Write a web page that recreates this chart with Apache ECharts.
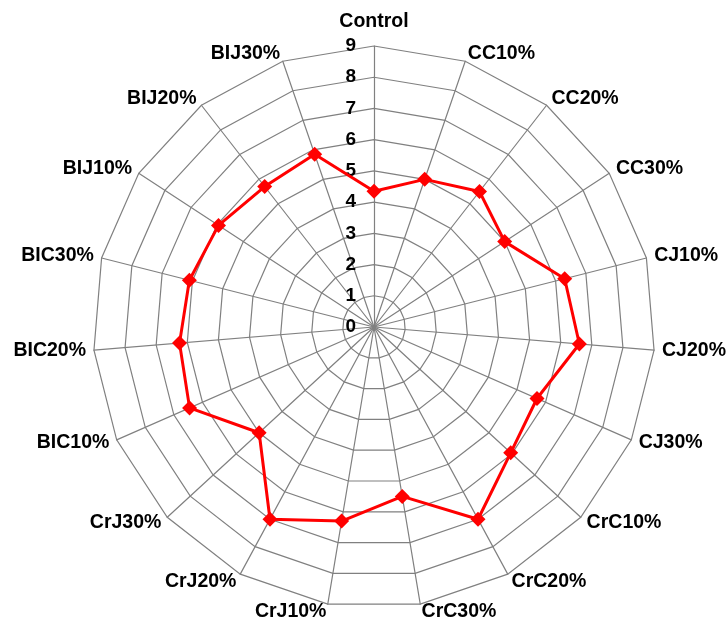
<!DOCTYPE html>
<html>
<head>
<meta charset="utf-8">
<script src="https://cdn.jsdelivr.net/npm/echarts@6/dist/echarts.min.js"></script>
<style>
  html, body { margin: 0; padding: 0; background: #ffffff; }
  #chart { width: 728px; height: 622px; }
</style>
</head>
<body>
<div id="chart"></div>
<script>
// Treatments, listed clockwise starting from the top spoke
const categories = [
  'Control', 'CC10%', 'CC20%', 'CC30%', 'CJ10%', 'CJ20%', 'CJ30%',
  'CrC10%', 'CrC20%', 'CrC30%', 'CrJ10%', 'CrJ20%', 'CrJ30%',
  'BIC10%', 'BIC20%', 'BIC30%', 'BIJ10%', 'BIJ20%', 'BIJ30%'
];
// Measured value for each treatment (same order)
const values = [
  4.35, 5.0, 5.5, 5.0, 6.3, 6.6, 5.7,
  5.95, 7.0, 5.5, 6.3, 7.0, 5.0,
  6.45, 6.25, 6.1, 5.95, 5.7, 5.85
];
const axisMin = 0;
const axisMax = 9;
const tickCount = 9;

// ECharts lays indicators out counter-clockwise, so keep the first one
// at the top and reverse the rest to read clockwise.
const order = [0].concat(categories.slice(1).map((_, i) => categories.length - 1 - i));
const indicator = order.map((idx, k) => {
  const ind = { name: categories[idx], min: axisMin, max: axisMax };
  if (k === 0) {
    // the top spoke carries the value scale and sits a little higher
    ind.axisLabel = { show: true };
    ind.nameGap = 14;
  }
  return ind;
});
const seriesData = order.map(idx => values[idx]);

const chart = echarts.init(document.getElementById('chart'), null, { renderer: 'canvas' });
chart.setOption({
  backgroundColor: '#ffffff',
  animation: false,
  radar: {
    center: [374, 327],
    radius: 281,
    startAngle: 90,
    splitNumber: tickCount,
    shape: 'polygon',
    indicator: indicator,
    nameGap: 8,
    axisName: {
      color: '#000000',
      fontFamily: 'Liberation Sans, Arial, sans-serif',
      fontWeight: 'bold',
      fontSize: 19.5
    },
    axisLine: { show: true, lineStyle: { color: '#808080', width: 1.2 } },
    splitLine: { show: true, lineStyle: { color: '#808080', width: 1.2 } },
    splitArea: { show: false },
    axisTick: { show: false },
    axisLabel: {
      show: false,
      color: '#000000',
      fontFamily: 'Liberation Sans, Arial, sans-serif',
      fontWeight: 'bold',
      fontSize: 19,
      margin: 18
    }
  },
  series: [{
    type: 'radar',
    symbol: 'diamond',
    symbolSize: 15,
    lineStyle: { color: '#ff0000', width: 3 },
    itemStyle: { color: '#ff0000' },
    data: [{ value: seriesData, name: 'Values' }]
  }]
});
</script>
</body>
</html>
